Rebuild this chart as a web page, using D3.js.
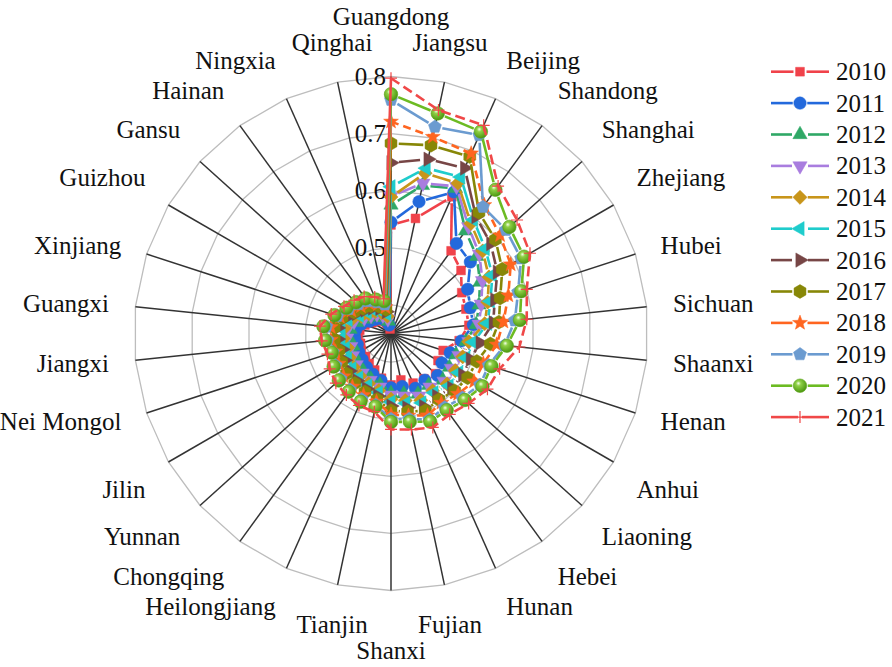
<!DOCTYPE html>
<html><head><meta charset="utf-8">
<script src="https://cdn.jsdelivr.net/npm/d3@7"></script>
<style>
body{margin:0;background:#fff;}
svg{display:block;}
</style>
</head><body>
<svg id="chart" width="892" height="667"></svg>
<script>
// Provinces, clockwise from the top spoke
const provinces = ["Guangdong","Jiangsu","Beijing","Shandong","Shanghai","Zhejiang","Hubei","Sichuan","Shaanxi","Henan","Anhui","Liaoning","Hebei","Hunan","Fujian","Shanxi","Tianjin","Heilongjiang","Chongqing","Yunnan","Jilin","Nei Mongol","Jiangxi","Guangxi","Xinjiang","Guizhou","Gansu","Hainan","Ningxia","Qinghai"];
const years = ["2010","2011","2012","2013","2014","2015","2016","2017","2018","2019","2020","2021"];

// Index values per year, same province order as above
const y2010 = [.540,.556,.612,.529,.515,.493,.488,.487,.470,.446,.445,.455,.448,.445,.433,.440,.430,.420,.415,.410,.410,.406,.408,.405,.398,.388,.382,.378,.370,.358];
const y2011 = [.545,.586,.621,.545,.537,.505,.496,.495,.474,.459,.453,.460,.451,.455,.445,.445,.434,.428,.423,.418,.415,.412,.414,.412,.404,.393,.387,.383,.375,.365];
const y2012 = [.575,.615,.628,.572,.552,.530,.512,.500,.482,.470,.468,.472,.462,.466,.458,.455,.442,.437,.432,.428,.425,.420,.424,.422,.413,.400,.393,.389,.381,.372];
const y2013 = [.590,.619,.632,.581,.558,.535,.516,.505,.487,.475,.472,.475,.466,.470,.462,.458,.446,.440,.436,.432,.428,.424,.428,.427,.418,.404,.397,.392,.385,.376];
const y2014 = [.589,.637,.638,.588,.566,.548,.528,.515,.487,.482,.480,.482,.474,.478,.470,.465,.452,.446,.442,.438,.434,.430,.434,.433,.424,.410,.402,.397,.390,.381];
const y2015 = [.607,.646,.650,.596,.572,.555,.533,.520,.495,.488,.487,.487,.478,.483,.475,.470,.456,.450,.446,.442,.438,.434,.438,.438,.429,.414,.406,.401,.394,.385];
const y2016 = [.649,.662,.667,.603,.585,.565,.541,.530,.507,.496,.495,.493,.486,.490,.483,.477,.462,.456,.452,.448,.444,.440,.444,.444,.435,.420,.411,.405,.398,.389];
const y2017 = [.683,.687,.689,.612,.596,.575,.551,.540,.525,.508,.505,.500,.493,.498,.490,.485,.468,.462,.458,.455,.450,.446,.450,.450,.440,.425,.416,.410,.402,.393];
const y2018 = [.721,.702,.695,.628,.607,.592,.566,.548,.536,.520,.518,.508,.500,.507,.497,.492,.472,.468,.465,.462,.456,.452,.456,.456,.444,.430,.421,.415,.406,.397];
const y2019 = [.759,.720,.730,.624,.621,.613,.584,.568,.550,.530,.530,.518,.510,.515,.503,.500,.478,.476,.472,.469,.462,.457,.462,.464,.449,.436,.427,.420,.410,.402];
const y2020 = [.769,.744,.737,.661,.629,.619,.590,.577,.554,.535,.535,.524,.516,.519,.508,.505,.481,.481,.476,.473,.466,.459,.466,.469,.454,.440,.432,.426,.415,.408];
const y2021 = [.797,.750,.749,.669,.647,.631,.600,.589,.576,.550,.545,.533,.525,.530,.522,.518,.490,.488,.483,.480,.474,.467,.472,.475,.460,.445,.437,.430,.420,.412];

const radialTicks = [0.4, 0.5, 0.6, 0.7, 0.8];
const radialTickLabels = ["0.4", "0.5", "0.6", "0.7", "0.8"];

const seriesValues = [y2010,y2011,y2012,y2013,y2014,y2015,y2016,y2017,y2018,y2019,y2020,y2021];
const seriesColors = ["#f0424a","#2369dc","#2fa866","#a97ddf","#c8951a","#1fcccc","#774646","#878707","#ff6520","#6b9bd0","#6cbb22","#f04848"];
const seriesShapes = ["square","circle","triUp","triDown","diamond","triLeft","triRight","hexagon","star","pentagon","sphere","plus"];
const seriesDash = [null,null,null,null,null,null,null,null,"8,5",null,null,"10,5"];

const FONT = "'Times New Roman', 'Liberation Serif', 'DejaVu Serif', serif";
const cx = 391, cy = 333.5, R = 257, labelR = 283.5, fs = 25;
const svg = d3.select("#chart");

const rScale = d3.scaleLinear().domain([0.35, 0.8]).range([0, R]);
const aScale = d3.scaleLinear().domain([0, provinces.length]).range([0, 2 * Math.PI]);
const pt = (i, r) => [cx + r * Math.sin(aScale(i)), cy - r * Math.cos(aScale(i))];

// gradient for the shaded ball symbol
const defs = svg.append("defs");
const g1 = defs.append("radialGradient").attr("id", "ball").attr("cx", "40%").attr("cy", "38%").attr("r", "60%").attr("fx", "38%").attr("fy", "32%");
g1.append("stop").attr("offset", "0%").attr("stop-color", "#f4ffe8");
g1.append("stop").attr("offset", "30%").attr("stop-color", "#8fd046");
g1.append("stop").attr("offset", "100%").attr("stop-color", "#4f9a12");

function poly(n, r, start) {
  const p = d3.path();
  for (let k = 0; k < n; k++) {
    const a = (start + k * 360 / n) * Math.PI / 180;
    const x = r * Math.cos(a), y = r * Math.sin(a);
    k ? p.lineTo(x, y) : p.moveTo(x, y);
  }
  p.closePath();
  return p.toString();
}
function markerPath(shape, d) {
  const r = d / 2;
  switch (shape) {
    case "square": { const s = d * 0.4; return `M${-s},${-s}H${s}V${s}H${-s}Z`; }
    case "circle": case "sphere": { const p = d3.path(); p.arc(0, 0, r, 0, 2 * Math.PI); p.closePath(); return p.toString(); }
    case "triUp": return poly(3, r * 1.18, -90);
    case "triDown": return poly(3, r * 1.18, 90);
    case "triLeft": return poly(3, r * 1.18, 180);
    case "triRight": return poly(3, r * 1.18, 0);
    case "diamond": return poly(4, r * 1.05, -90);
    case "hexagon": return poly(6, r * 1.02, -90);
    case "pentagon": return poly(5, r * 1.05, -90);
    case "star": {
      const p = d3.path();
      for (let k = 0; k < 10; k++) {
        const rr = k % 2 ? r * 0.5 : r * 1.2;
        const a = (-90 + k * 36) * Math.PI / 180;
        k ? p.lineTo(rr * Math.cos(a), rr * Math.sin(a)) : p.moveTo(rr * Math.cos(a), rr * Math.sin(a));
      }
      p.closePath(); return p.toString();
    }
    case "plus": return `M${-r},0H${r}M0,${-r}V${r}`;
  }
}
function drawMarker(sel, s, d) {
  const shape = seriesShapes[s], col = seriesColors[s];
  const m = sel.append("path").attr("d", markerPath(shape, d));
  if (shape === "plus") m.attr("fill", "none").attr("stroke", col).attr("stroke-width", 1.2);
  else if (shape === "sphere") m.attr("fill", "url(#ball)").attr("stroke", "#5aa219").attr("stroke-width", 0.6);
  else m.attr("fill", col).attr("stroke", col).attr("stroke-width", 0.5);
  return m;
}

// polygon grid
const gridLine = d3.line();
const grid = svg.append("g");
radialTicks.forEach(t => {
  const pts = provinces.map((p, i) => pt(i, rScale(t)));
  grid.append("path").attr("d", gridLine(pts) + "Z").attr("fill", "none").attr("stroke", "#bdbdbd").attr("stroke-width", 1.3);
});
// spokes
grid.selectAll("line.spoke").data(provinces).join("line")
  .attr("x1", cx).attr("y1", cy)
  .attr("x2", (d, i) => pt(i, R)[0]).attr("y2", (d, i) => pt(i, R)[1])
  .attr("stroke", "#333").attr("stroke-width", 1.5);

// radial tick labels on the top spoke
svg.append("g").selectAll("text").data(radialTicks).join("text")
  .attr("x", cx - 5).attr("y", d => cy - rScale(d) + 0.3375 * fs)
  .attr("text-anchor", "end").attr("font-size", fs).attr("font-family", FONT).attr("fill", "#111")
  .text((d, i) => radialTickLabels[i]);

// series: line segments stop short of the symbols, then the symbols
const sizes = [11, 12.5, 14, 14, 13.5, 14, 14, 13.5, 13, 13, 13.5, 12];
seriesValues.forEach((vals, s) => {
  const g = svg.append("g");
  const pts = vals.map((v, i) => pt(i, rScale(v)));
  const col = seriesColors[s];
  if (seriesDash[s]) {
    // dashed outline, with the closing stroke back to the first spoke drawn solid
    g.append("path").attr("d", d3.line()(pts)).attr("fill", "none")
      .attr("stroke", col).attr("stroke-width", 2.6).attr("stroke-dasharray", seriesDash[s]);
    const last = pts[pts.length - 1], first = pts[0];
    g.append("line").attr("x1", last[0]).attr("y1", last[1]).attr("x2", first[0]).attr("y2", first[1])
      .attr("stroke", col).attr("stroke-width", 2.6);
  } else {
    const gap = sizes[s] / 2 + 1;
    pts.forEach((p, i) => {
      const q = pts[(i + 1) % pts.length];
      const dx = q[0] - p[0], dy = q[1] - p[1], L = Math.hypot(dx, dy);
      if (L <= 2 * gap) return;
      const ux = dx / L, uy = dy / L;
      g.append("line")
        .attr("x1", p[0] + ux * gap).attr("y1", p[1] + uy * gap)
        .attr("x2", q[0] - ux * gap).attr("y2", q[1] - uy * gap)
        .attr("stroke", col).attr("stroke-width", 2.6);
    });
  }
  pts.forEach(p => drawMarker(g.append("g").attr("transform", `translate(${p[0]},${p[1]})`), s, sizes[s]));
});

// category labels around the outside
const asc = 0.891 * fs, desc = 0.216 * fs;
const labelG = svg.append("g");
const boxes = [];
provinces.forEach((name, i) => {
  const a = aScale(i), deg = a * 180 / Math.PI;
  const [x, y] = pt(i, labelR);
  const sector = Math.round(deg / 45) % 8;
  const anchor = [0, 4].includes(sector) ? "middle" : sector < 4 ? "start" : "end";
  let base;
  if (sector === 0 || sector === 1 || sector === 7) base = y - desc;
  else if (sector === 2 || sector === 6) base = y + 0.3375 * fs;
  else base = y + asc;
  const t = labelG.append("text").attr("font-size", fs).attr("font-family", FONT).attr("fill", "#111")
    .attr("text-anchor", anchor).attr("x", x).attr("y", base).text(name);
  boxes.push({ t, x, base, w: t.node().getComputedTextLength(), anchor, a });
});
function box(b) {
  const x0 = b.anchor === "middle" ? b.x - b.w / 2 : b.anchor === "start" ? b.x : b.x - b.w;
  return [x0, b.base - 0.82 * fs, x0 + b.w, b.base + 0.22 * fs];
}
// labels sitting right on the vertical axis move outward while they overlap a neighbour
boxes.forEach((b, i) => {
  if (Math.abs(Math.sin(b.a)) > 1e-6) return;
  const n = boxes.length;
  const others = [boxes[(i + 1) % n], boxes[(i + n - 1) % n]];
  const dir = -Math.cos(b.a);
  let guard = 0;
  const hit = () => others.some(o => {
    const A = box(b), B = box(o);
    return A[0] < B[2] && B[0] < A[2] && A[1] < B[3] && B[1] < A[3];
  });
  while (hit() && guard++ < 60) { b.base += dir; }
  b.t.attr("y", b.base);
});

// legend
const legY0 = 71.7, legDy = 31.4;
const leg = svg.append("g");
years.forEach((yr, s) => {
  const y = legY0 + s * legDy;
  const g = leg.append("g");
  const gap = seriesShapes[s] === "plus" ? 2 : sizes[s] / 2 + 1;
  g.append("line").attr("x1", 771).attr("x2", 800 - gap).attr("y1", y).attr("y2", y).attr("stroke", seriesColors[s]).attr("stroke-width", 2.6);
  g.append("line").attr("x1", 800 + gap).attr("x2", 829).attr("y1", y).attr("y2", y).attr("stroke", seriesColors[s]).attr("stroke-width", 2.6);
  drawMarker(g.append("g").attr("transform", `translate(800,${y})`), s, sizes[s]);
  g.append("text").attr("x", 836).attr("y", y + 0.3375 * fs).attr("font-size", fs).attr("font-family", FONT).attr("fill", "#111").text(yr);
});
</script>
</body></html>
